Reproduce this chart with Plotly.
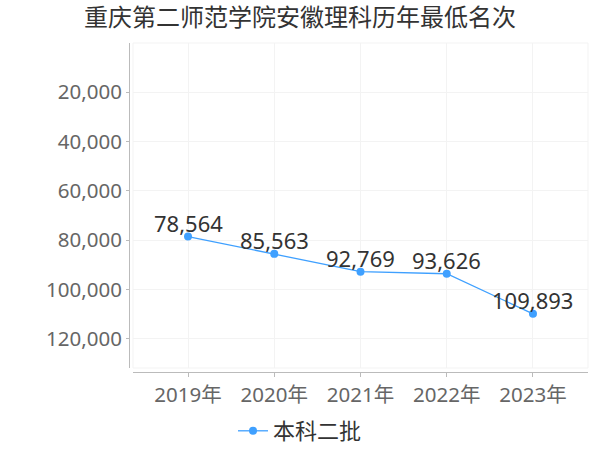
import plotly.graph_objects as go

years = ["2019年", "2020年", "2021年", "2022年", "2023年"]
ranks = [78564, 85563, 92769, 93626, 109893]
y_ticks = [20000, 40000, 60000, 80000, 100000, 120000]
y_tick_labels = ["20,000", "40,000", "60,000", "80,000", "100,000", "120,000"]
series_name = "本科二批"
title = "重庆第二师范学院安徽理科历年最低名次"

FONT = "Noto Sans, Noto Sans CJK SC, sans-serif"
color = "#3fa0ff"

xs = list(range(len(years)))
fig = go.Figure()
fig.add_trace(go.Scatter(
    x=xs, y=ranks, mode="lines+markers",
    name=series_name,
    line=dict(color=color, width=1.3),
    marker=dict(color=color, size=8),
    cliponaxis=False,
))

annotations = [
    dict(x=x, y=v, xref="x", yref="y", text=f"{v:,}", showarrow=False,
         xanchor="center", yanchor="bottom", yshift=-3,
         font=dict(size=22, color="#333333", family=FONT))
    for x, v in zip(xs, ranks)
]

W, H = 600, 450
ml, mr, mt, mb = 129, 12, 43, 78
pw = W - ml - mr
ph = H - mt - mb

fig.update_layout(
    width=W, height=H,
    margin=dict(l=ml, r=mr, t=mt, b=mb, autoexpand=False),
    paper_bgcolor="white", plot_bgcolor="white",
    font=dict(family=FONT, color="#666666"),
    title=dict(text=title, x=0.5, xref="container", xanchor="center",
               y=1 - 18 / H, yref="container", yanchor="middle",
               font=dict(size=24, color="#333333", family=FONT)),
    showlegend=True,
    legend=dict(orientation="h", x=0.5, xref="container", xanchor="center",
                y=1 - 431 / H, yref="container", yanchor="middle",
                font=dict(size=22, color="#333333", family=FONT),
                itemwidth=30),
    annotations=annotations,
    xaxis=dict(
        domain=[4 / pw, 1], anchor="free", position=0, automargin=False,
        range=[-0.638, len(years) - 1 + 0.638],
        tickmode="array", tickvals=xs, ticktext=years,
        showgrid=True, gridcolor="#f3f3f3", gridwidth=1,
        showline=True, linecolor="#bbbbbb", linewidth=1,
        ticks="outside", ticklen=4, tickcolor="#bbbbbb",
        tickfont=dict(size=20.5, color="#666666", family=FONT),
        zeroline=False,
    ),
    yaxis=dict(
        domain=[4 / ph, 1], anchor="free", position=0, automargin=False,
        range=[131872, 0],
        tickmode="array", tickvals=y_ticks, ticktext=y_tick_labels,
        showgrid=True, gridcolor="#f3f3f3", gridwidth=1,
        showline=True, linecolor="#bbbbbb", linewidth=1,
        ticks="outside", ticklen=3, tickcolor="#bbbbbb",
        tickfont=dict(size=20.5, color="#666666", family=FONT),
        zeroline=False,
    ),
    shapes=[dict(type="rect", xref="x domain", yref="y domain",
                 x0=0, x1=1, y0=0, y1=1,
                 line=dict(color="#f3f3f3", width=1), layer="below")],
)

fig.write_html("out.html", config={"displayModeBar": False},
               post_script="document.body.style.margin='0';document.body.style.padding='0';")
